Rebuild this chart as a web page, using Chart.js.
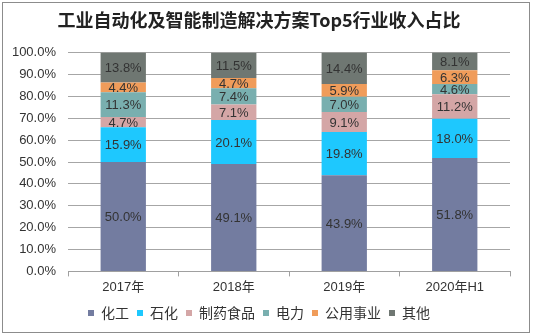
<!DOCTYPE html>
<html>
<head>
<meta charset="utf-8">
<script src="https://cdn.jsdelivr.net/npm/chart.js@4.4.0/dist/chart.umd.min.js"></script>
<style>
  html, body { margin: 0; padding: 0; background: #fff; }
  #wrap { width: 534px; height: 335px; position: relative; }
</style>
</head>
<body>
<div id="wrap"><canvas id="shareChart"></canvas></div>
<script>
// categories and series (percent)
const years = ['2017年', '2018年', '2019年', '2020年H1'];
const chemical = [50.0, 49.1, 43.9, 51.8];     // 化工
const petro = [15.9, 20.1, 19.8, 18.0];        // 石化
const pharmaFood = [4.7, 7.1, 9.1, 11.2];      // 制药食品
const power = [11.3, 7.4, 7.0, 4.6];           // 电力
const utility = [4.4, 4.7, 5.9, 6.3];          // 公用事业
const others = [13.8, 11.5, 14.4, 8.1];        // 其他
const yTicks = [0, 10, 20, 30, 40, 50, 60, 70, 80, 90, 100];

const cjk = '"Liberation Sans", Arial, "Noto Sans CJK SC", sans-serif';

// frame round the whole picture
const framePlugin = {
    id: 'frame',
    afterDraw(chart) {
        const c = chart.ctx;
        c.save();
        c.strokeStyle = '#8c8c8c';
        c.lineWidth = 1;
        c.strokeRect(2.5, 2.5, 527, 330);
        c.restore();
    }
};

// values written in the middle of each segment
const labelPlugin = {
    id: 'segLabels',
    afterDatasetsDraw(chart) {
        const c = chart.ctx;
        c.save();
        c.font = '13px ' + cjk;
        c.fillStyle = '#333333';
        c.textAlign = 'center';
        c.textBaseline = 'middle';
        chart.data.datasets.forEach((ds, i) => {
            chart.getDatasetMeta(i).data.forEach((bar, j) => {
                const mid = (bar.y + bar.base) / 2;
                c.fillText(ds.data[j].toFixed(1) + '%', bar.x, mid + 1);
            });
        });
        c.restore();
    }
};

const mk = (label, data, color) => ({
    label: label,
    data: data,
    backgroundColor: color,
    borderWidth: 0,
    barPercentage: 0.41,
    categoryPercentage: 1.0
});

const ctx = document.getElementById('shareChart').getContext('2d');
new Chart(ctx, {
    type: 'bar',
    data: {
        labels: years,
        datasets: [
            mk('化工', chemical, '#737ca0'),
            mk('石化', petro, '#1ec8fe'),
            mk('制药食品', pharmaFood, '#d4a6a6'),
            mk('电力', power, '#79afaf'),
            mk('公用事业', utility, '#f09c5a'),
            mk('其他', others, '#6f7772')
        ]
    },
    options: {
        responsive: true,
        maintainAspectRatio: false,
        animation: false,
        layout: {
            padding: { left: 8, right: 24, top: 4, bottom: 5 }
        },
        scales: {
            x: {
                stacked: true,
                offset: true,
                grid: {
                    offset: true,
                    drawOnChartArea: false,
                    drawTicks: true,
                    tickLength: 5,
                    color: '#a0a0a0'
                },
                border: { color: '#a0a0a0' },
                ticks: {
                    color: '#333333',
                    font: { size: 13, family: cjk },
                    padding: 3
                }
            },
            y: {
                stacked: true,
                min: 0,
                max: 100,
                afterBuildTicks(scale) {
                    scale.ticks = yTicks.map(v => ({ value: v }));
                },
                afterFit(scale) {
                    scale.width = 60;
                },
                grid: {
                    color: '#a6a6a6',
                    drawTicks: false
                },
                border: { display: false },
                ticks: {
                    color: '#333333',
                    padding: 12,
                    font: { size: 13, family: cjk },
                    callback: v => v.toFixed(1) + '%'
                }
            }
        },
        plugins: {
            title: {
                display: true,
                text: '工业自动化及智能制造解决方案Top5行业收入占比',
                color: '#222222',
                font: { size: 18, weight: 'bold', family: '"Noto Sans CJK SC", sans-serif' },
                padding: { top: 5, bottom: 22 }
            },
            legend: {
                position: 'bottom',
                labels: {
                    boxWidth: 6,
                    boxHeight: 6,
                    padding: 8,
                    color: '#333333',
                    font: { size: 14, family: '"Noto Sans CJK SC", sans-serif' }
                }
            },
            tooltip: { enabled: false }
        }
    },
    plugins: [labelPlugin, framePlugin]
});
</script>
</body>
</html>
